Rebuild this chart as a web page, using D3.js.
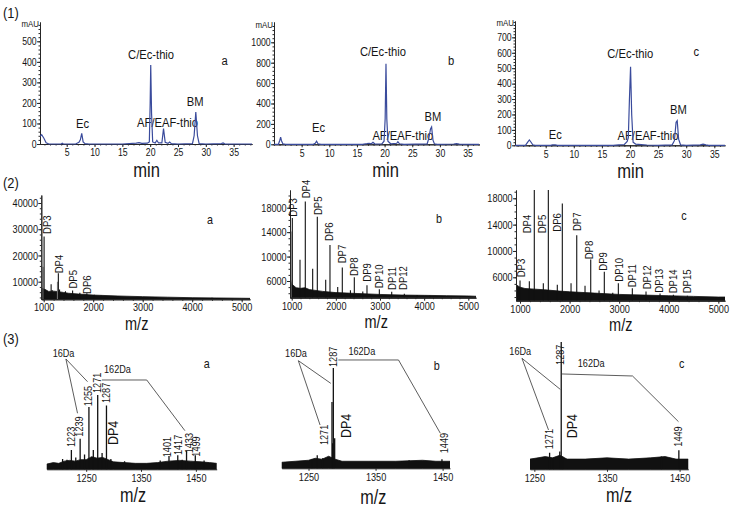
<!DOCTYPE html>
<html><head><meta charset="utf-8">
<script src="https://cdn.jsdelivr.net/npm/d3@7"></script>
<style>
body{margin:0;background:#fff}
svg{display:block}
text{font-family:'Liberation Sans',Arial,sans-serif;fill:#151515}
</style></head><body>
<script>
// ---------- DATA ----------
// (1) HPLC chromatograms: [time min, mAU]
const hplcA = [[0.2,38],[0.5,45],[0.9,28],[1.3,6],[1.8,0],[4.0,0],[4.2,4],[4.4,0],[6.6,0],[7.2,8],[7.45,20],[7.7,52],[7.95,10],[8.3,2],[9.0,0],[15.0,0],[17.5,4],[18.0,7],[18.5,3],[19.5,4],[19.85,10],[20.0,200],[20.1,385],[20.25,150],[20.45,10],[20.9,5],[21.2,18],[21.5,5],[22.1,5],[22.4,75],[22.7,8],[23.2,3],[23.5,10],[23.8,2],[25.0,0],[27.6,2],[27.9,40],[28.2,155],[28.5,40],[28.8,2],[30.0,0],[32.8,2],[33.1,5],[33.4,1],[38.3,0]];
const hplcB = [[0,0],[0.8,0],[1.05,40],[1.2,70],[1.35,35],[1.6,5],[2.1,0],[7.1,0],[7.45,10],[7.7,30],[7.95,5],[8.5,0],[16.0,0],[16.8,6],[17.2,10],[17.6,5],[17.9,20],[18.2,5],[19.5,3],[19.9,30],[20.1,250],[20.25,790],[20.4,250],[20.6,30],[21.1,5],[22.2,10],[22.4,25],[22.7,5],[23.5,0],[27.7,5],[28.0,60],[28.3,150],[28.5,170],[28.75,40],[29.0,5],[29.5,0],[32.5,3],[33.0,6],[33.5,2],[37.1,0]];
const hplcC = [[-0.5,0],[1.4,0],[1.8,20],[2.1,35],[2.4,20],[2.7,3],[3.1,0],[5.9,0],[6.2,3],[6.7,3],[7.1,0],[17.0,0],[18.0,3],[19.0,5],[19.5,25],[19.7,50],[19.9,300],[20.1,510],[20.3,200],[20.55,20],[21.0,8],[22.0,5],[23.0,2],[25.0,0],[27.5,3],[27.9,30],[28.2,150],[28.4,160],[28.65,40],[29.0,3],[30.0,0],[32.5,3],[33.0,8],[33.5,3],[34.0,0],[36.9,0]];
// peak names placed at [text, time, mAU]
const hplcLabelsA = [["C/Ec-thio",20.16,414],["Ec",7.84,78],["AF/EAF-thio",23.13,85],["BM",28.08,185]];
const hplcLabelsB = [["C/Ec-thio",19.7,861],["Ec",8.05,125],["AF/EAF-thio",23.3,42],["BM",28.75,224]];
const hplcLabelsC = [["C/Ec-thio",20.05,564],["Ec",6.7,41],["AF/EAF-thio",23.2,35],["BM",28.6,205]];
const hplcYTicksA = [0,100,200,300,400,500];
const hplcYTicksB = [0,200,400,600,800,1000];
const hplcYTicksC = [0,100,200,300,400,500,600,700];
const hplcXTicks = [5,10,15,20,25,30,35];

// (2) MALDI spectra: peaks [m/z, intensity]
const msA_peaks = [[1008,27200],[1030,7000],[1150,9000],[1170,6800],[1296,13200],[1320,7000],[1440,6400],[1584,6600],[1730,5800],[1872,5600],[2020,5000],[2160,4700],[2450,4300],[3000,4000],[4400,3900]];
const msA_gray = [[986,15700],[1280,10000]];
const msA_noise = [[952,5500],[965,7500],[1000,7200],[1050,6800],[1100,6300],[1200,6400],[1300,6200],[1400,5900],[1500,5600],[1700,5300],[2000,4900],[2500,4550],[3000,4300],[3500,4100],[4000,3900],[4500,3800],[5000,3700],[5168,3650]];
const msB_peaks = [[1014,16300],[1188,9500],[1308,19000],[1475,8000],[1580,16500],[1770,6200],[1867,11900],[2042,5000],[2146,8200],[2330,4500],[2418,6600],[2610,4300],[2705,5300],[2985,4650],[3265,4250],[3551,3900],[3840,3700],[4130,3600]];
const msB_gray = [[985,14100]];
const msB_noise = [[962,5000],[975,6200],[1000,5500],[1100,4900],[1200,4800],[1300,4900],[1400,4600],[1500,4500],[1700,4300],[2000,4100],[2500,3950],[3000,3800],[3500,3700],[4000,3650],[4500,3600],[5000,3550],[5174,3500]];
const msC_peaks = [[1000,5500],[1188,5400],[1288,21000],[1470,5100],[1571,21000],[1752,4850],[1853,17200],[2029,5100],[2144,12400],[2311,4700],[2426,8700],[2594,4000],[2700,6850],[2870,3650],[2983,5100],[3265,4350],[3541,3850],[3824,3550],[4093,3350],[4375,3200]];
const msC_gray = [];
const msC_noise = [[919,4200],[935,4800],[1000,4500],[1100,4300],[1300,4200],[1500,4100],[1800,3900],[2000,3800],[2500,3600],[3000,3400],[3500,3300],[4000,3200],[4500,3100],[5000,3000],[5134,3000]];
// DP labels [text, m/z, intensity] (label foot)
const msA_labels = [["DP3",1141,28200],["DP4",1384,13200],["DP5",1673,7400],["DP6",1956,5310]];
const msB_labels = [["DP3",1127,16530],["DP4",1414,19540],["DP5",1680,16800],["DP6",1942,12550],["DP7",2230,8900],["DP8",2508,6820],["DP9",2789,5890],["DP10",3068,4800],["DP11",3356,4530],["DP12",3618,4530]];
const msC_labels = [["DP3",1095,6000],["DP4",1228,12680],["DP5",1518,12680],["DP6",1821,12930],["DP7",2224,13030],["DP8",2478,8730],["DP9",2761,7000],["DP10",3083,5330],["DP11",3334,4480],["DP12",3636,4180],["DP13",3890,3660],["DP14",4173,3570],["DP15",4443,3570]];
const msYTicksA = [10000,20000,30000,40000];
const msYTicksBC = [6000,10000,14000,18000];
const msXTicks = [1000,2000,3000,4000,5000];

// (3) DP4 region: peaks [m/z, relative intensity %]
const dpA_peaks = [[1207,14],[1215,13],[1223,26],[1231,16],[1239,41],[1247,20],[1255,84],[1263,26],[1271,100],[1279,22],[1287,86],[1295,14],[1320,11],[1385,12],[1401,18],[1417,19],[1425,13],[1433,25],[1449,19],[1465,12]];
const dpA_noise = [[1178,7],[1190,9],[1200,8],[1210,11],[1220,12],[1230,11],[1240,13],[1250,13],[1260,17],[1270,15],[1280,16],[1290,13],[1300,10],[1320,9],[1340,8],[1360,8],[1380,9],[1400,11],[1420,12],[1440,11],[1460,10],[1475,9],[1488,8]];
const dpB_peaks = [[1255,9],[1263,13],[1271,10],[1285,66],[1286,25],[1287,100],[1289,30],[1400,8],[1449,9]];
const dpB_noise = [[1210,6],[1230,7],[1250,8],[1260,10],[1270,9],[1280,12],[1290,9],[1300,7],[1340,7],[1380,7],[1420,8],[1440,7],[1461,7]];
const dpC_peaks = [[1271,13],[1276,9],[1285,14],[1287,100],[1289,10],[1425,10],[1449,15]];
const dpC_noise = [[1244,8],[1255,9],[1265,10],[1275,9],[1285,11],[1295,8],[1320,8],[1350,9],[1380,8],[1410,9],[1430,10],[1445,8],[1462,8]];
const dpA_labels = [["1223",1229.5,30],["1239",1244.5,43.9],["1255",1261.5,85],["1271",1277.8,102.7],["1287",1293.6,89.2],["1401",1404,16.2],["1417",1424,19.2],["1433",1444,21.5],["1499",1458,17]];
const dpB_labels = [["1287",1293,101],["1271",1279,23.2],["1449",1457.5,15]];
const dpC_labels = [["1287",1291,82],["1271",1275,15.7],["1449",1454,17.8]];
const dpDP4 = {A:[1308.7,32.7], B:[1313.5,30.2], C:[1308.6,24.4]};
// annotation brackets [m/z, rel %]
const ann16A = [[1234.2,75.4],[1213,148.5],[1252.4,117.9]], ann162A = [[1278.5,120.2],[1360.4,120.2],[1430,52]];
const ann16B = [[1267.2,43.2],[1234.8,107.3],[1283.2,84.7]], ann162B = [[1294.5,108],[1384.2,108],[1446.6,34.9]];
const ann16C = [[1269.5,30.9],[1232.9,87.2],[1285.7,62.8]], ann162C = [[1287,74.9],[1385.2,73.3],[1448.5,37.4]];
const annText = {A:[[1208.7,151.5],[1307,129.2]], B:[[1231.3,111.3],[1329.5,113]], C:[[1230.6,89.8],[1328.3,80.6]]};
const dpXTicks = [1250,1350,1450];

// ---------- DRAW ----------
const W = 730, H = 520, SX = 0.83;
const svg = d3.select("body").append("svg").attr("width", W).attr("height", H);
const AX = "#262626";
let clipId = 0;
function clip(x0, x1, yt, yb) {
  const id = "c" + (clipId++);
  svg.append("clipPath").attr("id", id).append("rect")
    .attr("x", x0).attr("y", yt).attr("width", x1 - x0).attr("height", yb - yt + 1);
  return "url(#" + id + ")";
}
function styleAxis(g, fs) {
  g.attr("font-size", fs).attr("font-family", null);
  g.selectAll("path.domain").attr("stroke", AX).attr("stroke-width", 1);
  g.selectAll("line").attr("stroke", AX);
  g.selectAll("text").attr("fill", "#151515").attr("transform", `scale(${SX},1)`);
}
function txt(x, y, s, fs, anchor) {
  return svg.append("text").attr("transform", `translate(${x},${y}) scale(${SX},1)`).attr("font-size", fs)
    .attr("text-anchor", anchor || "middle").text(s);
}
function vtxt(x, y, s, fs) {
  return svg.append("text").attr("transform", `translate(${x},${y}) rotate(-90) scale(${SX},1)`)
    .attr("font-size", fs).attr("text-anchor", "start").text(s);
}

// section labels
txt(3, 18, "(1)", 15.5, "start");
txt(3, 188, "(2)", 15.5, "start");
txt(3, 344, "(3)", 15.5, "start");

// ---- Row 1 ----
const row1 = [
  {data: hplcA, labels: hplcLabelsA, yt: hplcYTicksA, minor: 20, xd: [0.2, 38.3], xr: [40, 252], yd: [0, 594], yr: [144, 22], letter: ["a", 224.5, 65], min: [146.5, 177], mau: 27},
  {data: hplcB, labels: hplcLabelsB, yt: hplcYTicksB, minor: 40, xd: [0, 37.07], xr: [274, 479], yd: [0, 1199], yr: [144.3, 22], letter: ["b", 451, 65], min: [385.5, 177], mau: 28},
  {data: hplcC, labels: hplcLabelsC, yt: hplcYTicksC, minor: 20, xd: [-0.46, 36.9], xr: [515, 725], yd: [0, 806], yr: [145.3, 21], letter: ["c", 696.3, 56], min: [630.5, 177.5], mau: 26}
];
row1.forEach(p => {
  const x = d3.scaleLinear().domain(p.xd).range(p.xr);
  const y = d3.scaleLinear().domain(p.yd).range(p.yr);
  const minorY = d3.range(0, p.yd[1], p.minor);
  const minorX = d3.range(Math.ceil(p.xd[0]), p.xd[1], 1);
  let g = svg.append("g").attr("transform", `translate(${p.xr[0]},0)`)
    .call(d3.axisLeft(y).tickValues(minorY).tickSize(1.5).tickFormat("").tickSizeOuter(0));
  styleAxis(g, 10.5);
  g = svg.append("g").attr("transform", `translate(${p.xr[0]},0)`)
    .call(d3.axisLeft(y).tickValues(p.yt).tickSize(3).tickPadding(1).tickSizeOuter(0).tickFormat(d3.format("d")));
  styleAxis(g, 10.5);
  g = svg.append("g").attr("transform", `translate(0,${p.yr[0]})`)
    .call(d3.axisBottom(x).tickValues(minorX).tickSize(1.5).tickFormat("").tickSizeOuter(0));
  styleAxis(g, 10.5);
  g = svg.append("g").attr("transform", `translate(0,${p.yr[0]})`)
    .call(d3.axisBottom(x).tickValues(hplcXTicks).tickSize(3).tickPadding(2).tickSizeOuter(0));
  styleAxis(g, 10.5);
  txt(p.xr[0] - 1, p.mau, "mAU", 9.5, "end");
  p.labels.forEach(l => txt(x(l[1]), y(l[2]), l[0], 13.5));
  svg.append("path").datum(p.data).attr("clip-path", clip(p.xr[0], p.xr[1], p.yr[1], p.yr[0]))
    .attr("fill", "none").attr("stroke", "#3a4b9c").attr("stroke-width", 1.2)
    .attr("d", d3.line().x(d => x(d[0])).y(d => y(d[1])));
  txt(p.letter[1], p.letter[2], p.letter[0], 13.5);
  txt(p.min[0], p.min[1], "min", 20);
});

// ---- Row 2 ----
const row2 = [
  {peaks: msA_peaks, gray: msA_gray, noise: msA_noise, labels: msA_labels, yt: msYTicksA, minor: 2000, xd: [951.5, 5168], xr: [41.3, 250], yd: [3290, 43050], yr: [299.3, 195], letter: ["a", 210, 224], mz: [136.7, 329.5]},
  {peaks: msB_peaks, gray: msB_gray, noise: msB_noise, labels: msB_labels, yt: msYTicksBC, minor: 1000, xd: [961.5, 5174], xr: [290, 476], yd: [3266, 20900], yr: [297.7, 190], letter: ["b", 439, 223.3], mz: [376.2, 328]},
  {peaks: msC_peaks, gray: msC_gray, noise: msC_noise, labels: msC_labels, yt: msYTicksBC, minor: 1000, xd: [919, 5134], xr: [516, 725], yd: [2445, 19260], yr: [300.7, 190], letter: ["c", 684, 220], mz: [620.8, 330.5]}
];
row2.forEach(p => {
  const x = d3.scaleLinear().domain(p.xd).range(p.xr);
  const y = d3.scaleLinear().domain(p.yd).range(p.yr);
  const cp = clip(p.xr[0], p.xr[1], p.yr[1], p.yr[0]);
  const pg = svg.append("g").attr("clip-path", cp);
  pg.append("path").datum(p.noise).attr("fill", "#111").attr("stroke", "#111").attr("stroke-width", 0.8)
    .attr("d", d3.area().x(d => x(d[0])).y0(p.yr[0]).y1(d => y(d[1])));
  pg.selectAll("line.g").data(p.gray).join("line").attr("class", "g")
    .attr("x1", d => x(d[0])).attr("x2", d => x(d[0])).attr("y1", p.yr[0]).attr("y2", d => y(d[1]))
    .attr("stroke", "#8a8a8a").attr("stroke-width", 1.3);
  pg.selectAll("line.p").data(p.peaks).join("line").attr("class", "p")
    .attr("x1", d => x(d[0])).attr("x2", d => x(d[0])).attr("y1", p.yr[0]).attr("y2", d => y(d[1]))
    .attr("stroke", "#111").attr("stroke-width", 1.1);
  const minorY = d3.range(Math.ceil(p.yd[0] / p.minor) * p.minor, p.yd[1], p.minor);
  const minorX = d3.range(1000, p.xd[1], 200);
  let g = svg.append("g").attr("transform", `translate(${p.xr[0]},0)`)
    .call(d3.axisLeft(y).tickValues(minorY).tickSize(1.5).tickFormat("").tickSizeOuter(0));
  styleAxis(g, 11);
  g = svg.append("g").attr("transform", `translate(${p.xr[0]},0)`)
    .call(d3.axisLeft(y).tickValues(p.yt).tickSize(3).tickPadding(1).tickSizeOuter(0).tickFormat(d3.format("d")));
  styleAxis(g, 11);
  g = svg.append("g").attr("transform", `translate(0,${p.yr[0]})`)
    .call(d3.axisBottom(x).tickValues(minorX).tickSize(1.5).tickFormat("").tickSizeOuter(0));
  styleAxis(g, 11);
  g = svg.append("g").attr("transform", `translate(0,${p.yr[0]})`)
    .call(d3.axisBottom(x).tickValues(msXTicks).tickSize(3).tickPadding(1).tickSizeOuter(0).tickFormat(d3.format("d")));
  styleAxis(g, 11);
  p.labels.forEach(l => vtxt(x(l[1]), y(l[2]), l[0], 11.5));
  txt(p.letter[1], p.letter[2], p.letter[0], 13);
  txt(p.mz[0], p.mz[1], "m/z", 17.5);
});

// ---- Row 3 ----
const row3 = [
  {key: "A", peaks: dpA_peaks, noise: dpA_noise, labels: dpA_labels, a16: ann16A, a162: ann162A, xd: [1178, 1488], xr: [46.7, 216.7], yr: [469.3, 395], letter: ["a", 206.7, 368.3], mz: [133, 502]},
  {key: "B", peaks: dpB_peaks, noise: dpB_noise, labels: dpB_labels, a16: ann16B, a162: ann162B, xd: [1210, 1461], xr: [281.7, 450], yr: [468.3, 368], letter: ["b", 436.7, 370], mz: [373.3, 504]},
  {key: "C", peaks: dpC_peaks, noise: dpC_noise, labels: dpC_labels, a16: ann16C, a162: ann162C, xd: [1244, 1462], xr: [530, 688.3], yr: [469.3, 342], letter: ["c", 681.7, 368.3], mz: [619, 501.5]}
];
row3.forEach(p => {
  const x = d3.scaleLinear().domain(p.xd).range(p.xr);
  const y = d3.scaleLinear().domain([0, 100]).range(p.yr);
  const cp = clip(p.xr[0], p.xr[1], 330, p.yr[0]);
  const pg = svg.append("g").attr("clip-path", cp);
  pg.append("path").datum(p.noise).attr("fill", "#111").attr("stroke", "#111").attr("stroke-width", 0.8)
    .attr("d", d3.area().x(d => x(d[0])).y0(p.yr[0]).y1(d => y(d[1])));
  pg.selectAll("line.p").data(p.peaks).join("line").attr("class", "p")
    .attr("x1", d => x(d[0])).attr("x2", d => x(d[0])).attr("y1", p.yr[0]).attr("y2", d => y(d[1]))
    .attr("stroke", "#111").attr("stroke-width", 1.3);
  const g = svg.append("g").attr("transform", `translate(0,${p.yr[0]})`)
    .call(d3.axisBottom(x).tickValues(dpXTicks).tickSize(2.5).tickPadding(2).tickSizeOuter(0).tickFormat(d3.format("d")));
  styleAxis(g, 11);
  p.labels.forEach(l => vtxt(x(l[1]), y(l[2]), l[0], 11));
  const d4 = dpDP4[p.key];
  vtxt(x(d4[0]), y(d4[1]), "DP4", 15);
  const ln = d3.line().x(d => x(d[0])).y(d => y(d[1]));
  svg.append("path").datum(p.a16).attr("d", ln).attr("fill", "none").attr("stroke", "#333").attr("stroke-width", 0.8);
  svg.append("path").datum(p.a162).attr("d", ln).attr("fill", "none").attr("stroke", "#333").attr("stroke-width", 0.8);
  const at = annText[p.key];
  txt(x(at[0][0]), y(at[0][1]), "16Da", 11);
  txt(x(at[1][0]), y(at[1][1]), "162Da", 11);
  txt(p.letter[1], p.letter[2], p.letter[0], 13);
  txt(p.mz[0], p.mz[1], "m/z", 19.5);
});
</script></body></html>
